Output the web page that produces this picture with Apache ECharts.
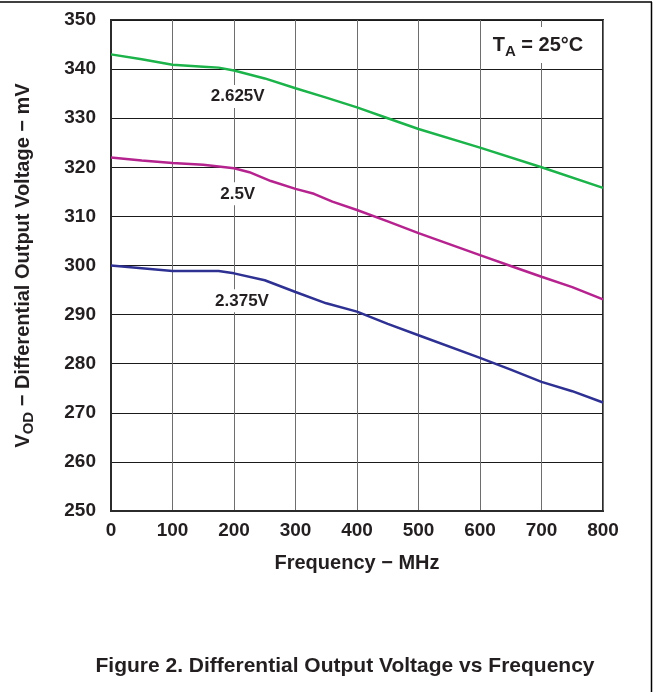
<!DOCTYPE html>
<html>
<head>
<meta charset="utf-8">
<script src="https://cdn.jsdelivr.net/npm/echarts@6/dist/echarts.min.js"></script>
<style>
html,body{margin:0;padding:0;background:#fff;}
#c{width:654px;height:692px;}
</style>
</head>
<body>
<div id="c"></div>
<script>
const freq2625 = [0, 50, 100, 150, 175, 200, 250, 300, 350, 400, 450, 500, 600, 700, 800];
const v2625    = [343.0, 342.0, 340.9, 340.5, 340.3, 339.7, 338.1, 336.1, 334.2, 332.2, 330.0, 327.8, 324.0, 320.0, 315.8];
const freq250  = [0, 50, 100, 150, 200, 225, 260, 300, 330, 360, 400, 450, 500, 600, 650, 700, 750, 800];
const v250     = [322.0, 321.4, 320.9, 320.5, 319.8, 319.0, 317.2, 315.6, 314.6, 313.0, 311.3, 309.0, 306.6, 302.1, 299.9, 297.7, 295.6, 293.1];
const freq2375 = [0, 100, 175, 200, 250, 300, 350, 400, 450, 500, 600, 650, 700, 750, 800];
const v2375    = [300.0, 298.9, 298.9, 298.4, 297.0, 294.6, 292.3, 290.6, 288.1, 285.8, 281.2, 278.8, 276.3, 274.4, 272.1];
const xTicks = [0, 100, 200, 300, 400, 500, 600, 700, 800];
const yTicks = [250, 260, 270, 280, 290, 300, 310, 320, 330, 340, 350];
const seriesNames = ['2.625V', '2.5V', '2.375V'];

const pair = (xs, ys) => xs.map((x, i) => [x, ys[i]]);
const FONT = '"Liberation Sans", Arial, Helvetica, sans-serif';
const TXT = '#231f20';

function labelPoint(name, coord) {
  return {
    symbol: 'rect', symbolSize: 0, silent: true,
    data: [{ coord: coord, value: name }],
    label: {
      show: true, position: 'inside', formatter: name,
      fontFamily: FONT, fontWeight: 'bold', fontSize: 17, color: TXT,
      backgroundColor: '#fff', padding: [3, 4, 3, 4]
    }
  };
}

const chart = echarts.init(document.getElementById('c'), null, { renderer: 'canvas' });
chart.setOption({
  animation: false,
  backgroundColor: '#fff',
  grid: { left: 111, top: 20, right: 51, bottom: 181, show: true, borderColor: '#2b2b2b', borderWidth: 2, backgroundColor: 'transparent' },
  xAxis: {
    type: 'value', min: xTicks[0], max: xTicks[xTicks.length - 1], interval: 100,
    name: 'Frequency − MHz', nameLocation: 'middle', nameGap: 42,
    nameTextStyle: { fontFamily: FONT, fontWeight: 'bold', fontSize: 20, color: TXT },
    axisLine: { show: true, lineStyle: { color: '#2b2b2b', width: 2 } },
    axisTick: { show: false },
    axisLabel: { margin: 10, fontFamily: FONT, fontWeight: 'bold', fontSize: 19, color: TXT },
    splitLine: { show: true, lineStyle: { color: '#6e6e6e', width: 1 } }
  },
  yAxis: {
    type: 'value', min: yTicks[0], max: yTicks[yTicks.length - 1], interval: 10,
    name: '{v|V}{s|OD}{v| − Differential Output Voltage − mV}',
    nameLocation: 'middle', nameGap: 75, nameRotate: 90,
    nameTextStyle: {
      fontFamily: FONT, fontWeight: 'bold', fontSize: 20, color: TXT,
      rich: {
        v: { fontFamily: FONT, fontWeight: 'bold', fontSize: 20, color: TXT, lineHeight: 26, verticalAlign: 'middle' },
        s: { fontFamily: FONT, fontWeight: 'bold', fontSize: 15, color: TXT, lineHeight: 26, verticalAlign: 'bottom' }
      }
    },
    axisLine: { show: true, lineStyle: { color: '#2b2b2b', width: 2 } },
    axisTick: { show: false },
    axisLabel: { margin: 15, fontFamily: FONT, fontWeight: 'bold', fontSize: 19, color: TXT },
    splitLine: { show: true, lineStyle: { color: '#1a1a1a', width: 1 } }
  },
  series: [
    { name: seriesNames[0], type: 'line', data: pair(freq2625, v2625), showSymbol: false,
      lineStyle: { color: '#1db34b', width: 2.5 }, z: 5,
      markPoint: labelPoint(seriesNames[0], [206, 334.4]) },
    { name: seriesNames[1], type: 'line', data: pair(freq250, v250), showSymbol: false,
      lineStyle: { color: '#b4238e', width: 2.5 }, z: 5,
      markPoint: labelPoint(seriesNames[1], [206, 314.6]) },
    { name: seriesNames[2], type: 'line', data: pair(freq2375, v2375), showSymbol: false,
      lineStyle: { color: '#2e3192', width: 2.5 }, z: 5,
      markPoint: labelPoint(seriesNames[2], [213, 292.8]) }
  ],
  graphic: [
    { type: 'line', shape: { x1: 0, y1: 2, x2: 652, y2: 2 }, style: { stroke: '#000', lineWidth: 1.5 } },
    { type: 'line', shape: { x1: 651.5, y1: 2, x2: 651.5, y2: 692 }, style: { stroke: '#000', lineWidth: 1.5 } },
    { type: 'text', x: 538, y: 45, z: 10,
      style: {
        text: '{t|T}{s|A}{t| = 25°C}', align: 'center', verticalAlign: 'middle',
        backgroundColor: '#fff', padding: [4, 6, 4, 6],
        rich: {
          t: { fontFamily: FONT, fontWeight: 'bold', fontSize: 20, fill: TXT, lineHeight: 28, verticalAlign: 'middle' },
          s: { fontFamily: FONT, fontWeight: 'bold', fontSize: 15, fill: TXT, lineHeight: 28, verticalAlign: 'bottom' }
        }
      } },
    { type: 'text', x: 345, y: 666, z: 10,
      style: { text: 'Figure 2. Differential Output Voltage vs Frequency', align: 'center', verticalAlign: 'middle',
        fontFamily: FONT, fontWeight: 'bold', fontSize: 21, fill: TXT } }
  ]
});
</script>
</body>
</html>
